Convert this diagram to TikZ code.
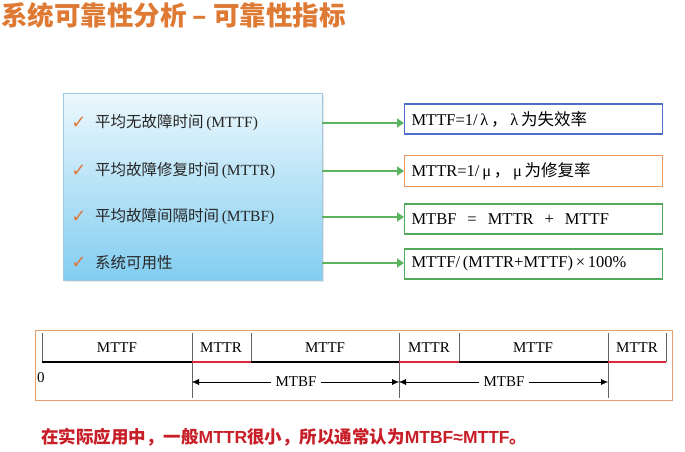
\documentclass[tikz,border=0pt]{standalone}
\usepackage{fontspec}
\setmainfont{Liberation Serif}
\setsansfont{Liberation Sans}
\newfontfamily\cjk{Noto Sans CJK SC}
\newfontfamily\sym{DejaVu Sans}
\usetikzlibrary{arrows.meta,shadows}

\definecolor{titleorange}{RGB}{222,122,52}
\definecolor{checkorange}{RGB}{225,120,60}
\definecolor{boxblue}{RGB}{80,110,200}
\definecolor{boxorange}{RGB}{235,150,90}
\definecolor{boxgreen}{RGB}{80,170,90}
\definecolor{arrowgreen}{RGB}{90,180,95}
\definecolor{noteRed}{RGB}{200,30,40}
\definecolor{lineRed}{RGB}{220,40,60}
\definecolor{paneltop}{RGB}{236,248,253}
\definecolor{panelbottom}{RGB}{130,205,240}
\definecolor{panelborder}{RGB}{160,200,225}
\definecolor{frameorange}{RGB}{230,160,110}

\begin{document}
\begin{tikzpicture}[x=1pt,y=-1pt,
  item/.style={anchor=west,inner sep=0pt,text=black!85,font=\fontsize{15.5}{18}\selectfont},
  chk/.style={anchor=center,inner sep=0pt,text=checkorange,font=\sym\bfseries\fontsize{18}{20}\selectfont},
  fbox/.style={draw,line width=1.1pt,anchor=west,inner sep=7pt,text width=244pt,
    minimum height=30pt,align=left,font=\fontsize{16.5}{18}\selectfont},
  garrow/.style={draw=arrowgreen,line width=2.6pt,-{Triangle[length=7pt,width=9pt]}},
  tl/.style={font=\fontsize{15}{17}\selectfont},
  tick/.style={draw=black!60,line width=0.8pt}]
  \useasboundingbox (0,0) rectangle (685,452);

  % ---------- Title ----------
  \node[anchor=west,inner sep=0pt,text=titleorange,
    font=\cjk\bfseries\fontsize{26.5}{28}\selectfont] (title) at (1,15)
    {系统可靠性分析 – 可靠性指标};

  % ---------- Left panel with the four indicators ----------
  \node[draw=panelborder,top color=paneltop,bottom color=panelbottom,
    minimum width=259pt,minimum height=187pt,anchor=north west,
    drop shadow={opacity=0.2,shadow xshift=2pt,shadow yshift=-2pt}] (ind) at (63,93) {};
  \node[chk] (c1) at (79,123) {✓};
  \node[chk] (c2) at (79,171) {✓};
  \node[chk] (c3) at (79,217) {✓};
  \node[chk] (c4) at (79,263) {✓};
  \node[item] (it1) at (95,123) {{\cjk 平均无故障时间}\,(MTTF)};
  \node[item] (it2) at (95,171) {{\cjk 平均故障修复时间}\,(MTTR)};
  \node[item] (it3) at (95,217) {{\cjk 平均故障间隔时间}\,(MTBF)};
  \node[item] (it4) at (95,263) {{\cjk 系统可用性}};

  % ---------- Formula boxes ----------
  \node[fbox,draw=boxblue] (f1) at (404,119) {MTTF=1/\,λ\,{\cjk ，}\,λ\,{\cjk 为失效率}};
  \node[fbox,draw=boxorange] (f2) at (404,171) {MTTR=1/\,μ\,{\cjk ，}\,μ\,{\cjk 为修复率}};
  \node[fbox,draw=boxgreen] (f3) at (404,219) {MTBF \ = \ MTTR \ + \ MTTF};
  \node[fbox,draw=boxgreen] (f4) at (404,264) {MTTF/\,(MTTR+MTTF)\,×\,100\%};

  \draw[garrow] (ind.east |- it1) -- (f1.west |- it1);
  \draw[garrow] (ind.east |- it2) -- (f2.west |- it2);
  \draw[garrow] (ind.east |- it3) -- (f3.west |- it3);
  \draw[garrow] (ind.east |- it4) -- (f4.west |- it4);

  % ---------- Time line ----------
  \draw[draw=frameorange,line width=1pt] (35,330) rectangle (672,400);
  \foreach \x in {42,192,251,399,459,608,666}
    \draw[tick] (\x,333) -- (\x,362);
  \foreach \x in {192,399,608}
    \draw[tick] (\x,362) -- (\x,398);
  \draw[line width=1.6pt] (42,362) -- (666,362);
  \foreach \a/\b in {192/251,399/459,608/666}
    \draw[lineRed,line width=1.6pt] (\a,362) -- (\b,362);
  \foreach \x/\t in {117/MTTF,221/MTTR,325/MTTF,429/MTTR,533/MTTF,637/MTTR}
    \node[tl] at (\x,348) {\t};
  \node[anchor=west,inner sep=0pt,tl] (zero) at (37,378) {0};

  \coordinate (p1) at (192,382);
  \coordinate (p2) at (399,382);
  \coordinate (p3) at (608,382);
  \node[tl,fill=white,inner sep=4pt] (b1) at (296,382) {MTBF};
  \node[tl,fill=white,inner sep=4pt] (b2) at (504,382) {MTBF};
  \draw[-{Latex[length=7pt,width=6pt]}] (b1) -- (p1);
  \draw[-{Latex[length=7pt,width=6pt]}] (b1) -- (p2);
  \draw[-{Latex[length=7pt,width=6pt]}] (b2) -- (p2);
  \draw[-{Latex[length=7pt,width=6pt]}] (b2) -- (p3);

  % ---------- Note ----------
  \node[anchor=west,inner sep=0pt,text=noteRed,font=\fontsize{17.5}{19}\selectfont] (note) at (41,437)
    {{\cjk\bfseries 在实际应用中，一般}{\sffamily\bfseries MTTR}{\cjk\bfseries 很小，所以通常认为}{\sffamily\bfseries MTBF≈MTTF}{\cjk\bfseries 。}};
\end{tikzpicture}
\end{document}
